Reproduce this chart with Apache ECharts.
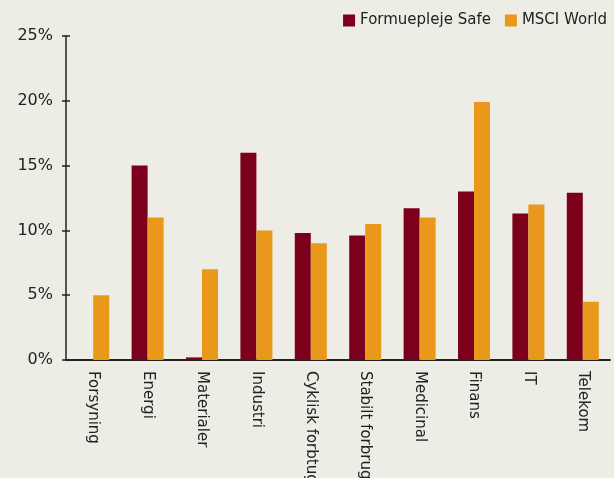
<!DOCTYPE html>
<html>
<head>
<meta charset="utf-8">
<script src="https://cdn.jsdelivr.net/npm/echarts@6/dist/echarts.min.js"></script>
<style>
  html, body { margin: 0; padding: 0; background: #edece5; }
  #chart { width: 614px; height: 478px; }
</style>
</head>
<body>
<div id="chart"></div>
<script>
var categories = ['Forsyning', 'Energi', 'Materialer', 'Industri', 'Cyklisk forbtug',
  'Stabilt forbrug', 'Medicinal', 'Finans', 'IT', 'Telekom'];
var safeValues = [0, 15.0, 0.2, 16.0, 9.8, 9.6, 11.7, 13.0, 11.3, 12.9];
var msciValues = [5.0, 11.0, 7.0, 10.0, 9.0, 10.5, 11.0, 19.9, 12.0, 4.5];
var seriesNames = ['Formuepleje Safe', 'MSCI World'];

var safeColor = '#7c001c';
var msciColor = '#e9981c';
var font = '"DejaVu Sans", sans-serif';

var chart = echarts.init(document.getElementById('chart'));
var option = {
  backgroundColor: '#edece5',
  animation: false,
  textStyle: { fontFamily: font },
  legend: {
    right: 2,
    top: 8,
    itemWidth: 12,
    itemHeight: 12,
    itemGap: 14,
    icon: 'rect',
    textStyle: { fontSize: 15, color: '#222', fontFamily: font }
  },
  grid: {
    left: 66,
    right: 4,
    top: 36,
    bottom: 118,
    outerBoundsMode: 'none',
    containLabel: false
  },
  xAxis: [
    {
      type: 'category',
      data: categories,
      axisLine: { lineStyle: { color: '#222', width: 2 } },
      axisTick: { length: 4, lineStyle: { color: '#222', width: 1.5 } },
      axisLabel: {
        rotate: -90,
        margin: 11,
        fontSize: 15,
        color: '#222',
        fontFamily: font
      }
    },
    {
      type: 'category',
      data: categories,
      position: 'bottom',
      axisLine: { show: false },
      axisTick: { inside: true, length: 4, lineStyle: { color: '#222', width: 1.5 } },
      axisLabel: { show: false }
    }
  ],
  yAxis: [
    {
      type: 'value',
      min: 0,
      max: 25,
      interval: 5,
      splitLine: { show: false },
      axisLine: { show: true, lineStyle: { color: '#555', width: 2 } },
      axisTick: { show: true, length: 4, lineStyle: { color: '#222', width: 1.5 } },
      axisLabel: {
        formatter: '{value}%',
        fontSize: 16,
        margin: 13,
        color: '#222',
        fontFamily: font
      }
    },
    {
      type: 'value',
      min: 0,
      max: 25,
      interval: 5,
      position: 'left',
      splitLine: { show: false },
      axisLine: { show: false },
      axisTick: { show: true, inside: true, length: 4, lineStyle: { color: '#222', width: 1.5 } },
      axisLabel: { show: false }
    }
  ],
  series: [
    {
      name: seriesNames[0],
      type: 'bar',
      data: safeValues,
      barWidth: 16,
      barGap: '0%',
      itemStyle: { color: safeColor }
    },
    {
      name: seriesNames[1],
      type: 'bar',
      data: msciValues,
      barWidth: 16,
      barGap: '0%',
      itemStyle: { color: msciColor }
    }
  ]
};
chart.setOption(option);
</script>
</body>
</html>
